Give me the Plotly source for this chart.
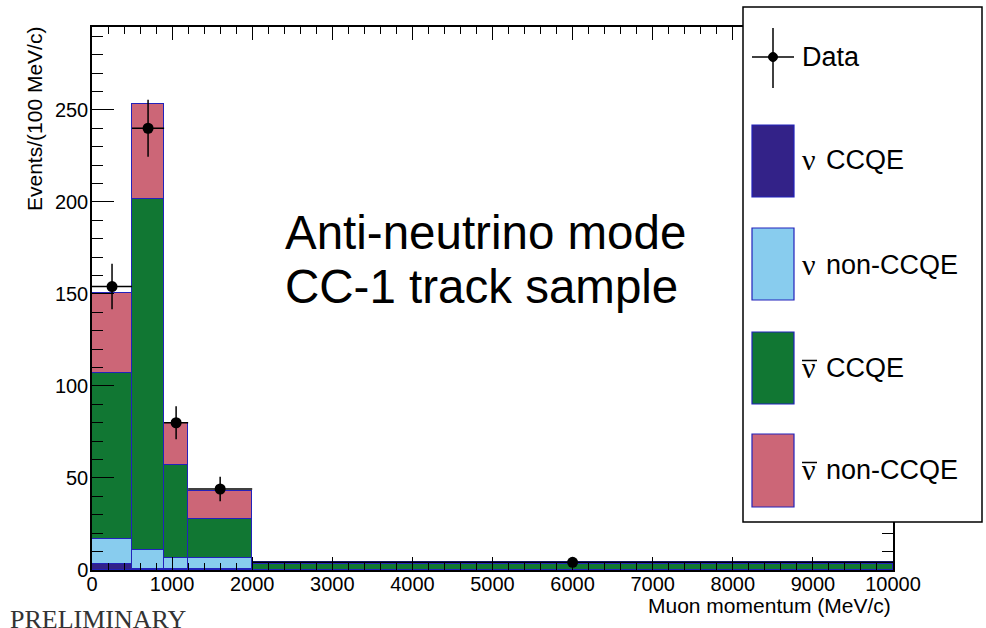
import plotly.graph_objects as go

# ---- data ----
bin_edges = [0, 500, 900, 1200, 2000, 10000]
nu_ccqe = [3.0, 0.6, 0.4, 0.3, 0.0]
nu_nonccqe = [13.7, 10.3, 6.0, 6.1, 0.0]
nubar_ccqe = [90.5, 190.7, 50.6, 21.3, 3.0]
nubar_nonccqe = [43.5, 51.7, 23.0, 15.4, 1.5]
data_vals = [154, 240, 80, 44, 4.2]
data_errs = [12.4, 15.5, 8.9, 6.6, 2.0]

centers = [(a + b) / 2 for a, b in zip(bin_edges[:-1], bin_edges[1:])]
widths = [b - a for a, b in zip(bin_edges[:-1], bin_edges[1:])]
half_widths = [w / 2 for w in widths]

C_NU_CCQE = "#332288"
C_NU_NON = "#88CCEE"
C_NUB_CCQE = "#117733"
C_NUB_NON = "#CC6677"
OUTLINE = "#2222bb"

fig = go.Figure()
for name, vals, col in [("ν CCQE", nu_ccqe, C_NU_CCQE),
                        ("ν non-CCQE", nu_nonccqe, C_NU_NON),
                        ("ν̄ CCQE", nubar_ccqe, C_NUB_CCQE),
                        ("ν̄ non-CCQE", nubar_nonccqe, C_NUB_NON)]:
    fig.add_trace(go.Bar(x=centers, y=vals, width=widths, name=name,
                         marker=dict(color=col, line=dict(color=OUTLINE, width=1.3)),
                         showlegend=False))

fig.add_trace(go.Scatter(x=centers, y=data_vals, mode="markers", name="Data",
                         marker=dict(color="black", size=11),
                         error_y=dict(type="data", array=data_errs, color="black", thickness=1.5, width=0),
                         error_x=dict(type="data", array=half_widths, color="black", thickness=1.5, width=0),
                         showlegend=False))

FONT = "Liberation Sans, Arial, sans-serif"
SERIF = "Liberation Serif, serif"

fig.update_layout(
    width=986, height=628,
    margin=dict(l=92, r=93, t=27, b=58),
    paper_bgcolor="white", plot_bgcolor="white",
    barmode="stack", bargap=0,
    font=dict(family=FONT, color="black", size=20),
    showlegend=False,
)
fig.update_xaxes(range=[0, 10000], dtick=1000, tick0=0, tickformat="d", ticks="inside", ticklen=13, tickwidth=1.2,
                 tickcolor="black", showline=True, linecolor="black", linewidth=1.5, mirror="ticks",
                 showgrid=False, zeroline=False, tickfont=dict(size=20), ticklabelstandoff=-5,
                 minor=dict(dtick=200, ticklen=7, tickwidth=1.2, tickcolor="black", ticks="inside", showgrid=False))
fig.update_yaxes(range=[0, 295], dtick=50, tick0=0, ticks="inside", ticklen=22, tickwidth=1.2,
                 tickcolor="black", showline=True, linecolor="black", linewidth=1.5, mirror="ticks",
                 showgrid=False, zeroline=False, tickfont=dict(size=20), ticklabelstandoff=-2,
                 minor=dict(dtick=10, ticklen=11, tickwidth=1.2, tickcolor="black", ticks="inside", showgrid=False))

def px(xp):
    return (xp - 92) / 801.0

def py(yp):
    return (570 - yp) / 543.0

ann = []
ann.append(dict(text="Events/(100 MeV/c)", x=px(34), y=py(119), xref="paper", yref="paper",
                textangle=-90, showarrow=False, font=dict(size=21), xanchor="center", yanchor="middle"))
ann.append(dict(text="Muon momentum (MeV/c)", x=1.0, y=py(605), xref="paper", yref="paper",
                showarrow=False, font=dict(size=21), xanchor="right", yanchor="middle"))
ann.append(dict(text="Anti-neutrino mode", x=px(283), y=py(232), xref="paper", yref="paper",
                showarrow=False, font=dict(size=47.5), xanchor="left", yanchor="middle"))
ann.append(dict(text="CC-1 track sample", x=px(283), y=py(286), xref="paper", yref="paper",
                showarrow=False, font=dict(size=47.5), xanchor="left", yanchor="middle"))
ann.append(dict(text="PRELIMINARY", x=px(8), y=py(619), xref="paper", yref="paper",
                showarrow=False, font=dict(size=26, family=SERIF, color="#333333"),
                xanchor="left", yanchor="middle"))

shapes = []
# legend box
shapes.append(dict(type="rect", xref="paper", yref="paper", x0=px(743), x1=px(982), y0=py(522), y1=py(7),
                   fillcolor="white", line=dict(color="black", width=1.5), layer="above"))
# data entry
shapes.append(dict(type="line", xref="paper", yref="paper", x0=px(752), x1=px(794), y0=py(57), y1=py(57),
                   line=dict(color="black", width=1.5), layer="above"))
shapes.append(dict(type="line", xref="paper", yref="paper", x0=px(773), x1=px(773), y0=py(28), y1=py(88),
                   line=dict(color="black", width=1.5), layer="above"))
shapes.append(dict(type="circle", xref="paper", yref="paper", x0=px(768.5), x1=px(777.5), y0=py(61.5), y1=py(52.5),
                   fillcolor="black", line=dict(color="black", width=1), layer="above"))
ann.append(dict(text="Data", x=px(800), y=py(57), xref="paper", yref="paper", showarrow=False,
                font=dict(size=27), xanchor="left", yanchor="middle"))

entries = [
    ("CCQE", False, C_NU_CCQE, 125, 197, 160),
    ("non-CCQE", False, C_NU_NON, 228, 300, 265),
    ("CCQE", True, C_NUB_CCQE, 332, 404, 368),
    ("non-CCQE", True, C_NUB_NON, 434, 507, 470),
]
for txt, bar, col, top, bot, yc in entries:
    shapes.append(dict(type="rect", xref="paper", yref="paper", x0=px(752), x1=px(794), y0=py(bot), y1=py(top),
                       fillcolor=col, line=dict(color=OUTLINE, width=1.2), layer="above"))
    ann.append(dict(text="ν", x=px(800), y=py(yc - 1), xref="paper", yref="paper", showarrow=False,
                    font=dict(size=30, family=SERIF), xanchor="left", yanchor="middle"))
    ann.append(dict(text=txt, x=px(824), y=py(yc), xref="paper", yref="paper", showarrow=False,
                    font=dict(size=27), xanchor="left", yanchor="middle"))
    if bar:
        shapes.append(dict(type="line", xref="paper", yref="paper", x0=px(802), x1=px(817),
                           y0=py(yc - 7.5), y1=py(yc - 7.5), line=dict(color="black", width=1.5), layer="above"))

fig.update_layout(annotations=ann, shapes=shapes)
fig.write_html("out.html", config={"displayModeBar": False},
               post_script="document.body.style.margin='0';document.body.style.padding='0';")
